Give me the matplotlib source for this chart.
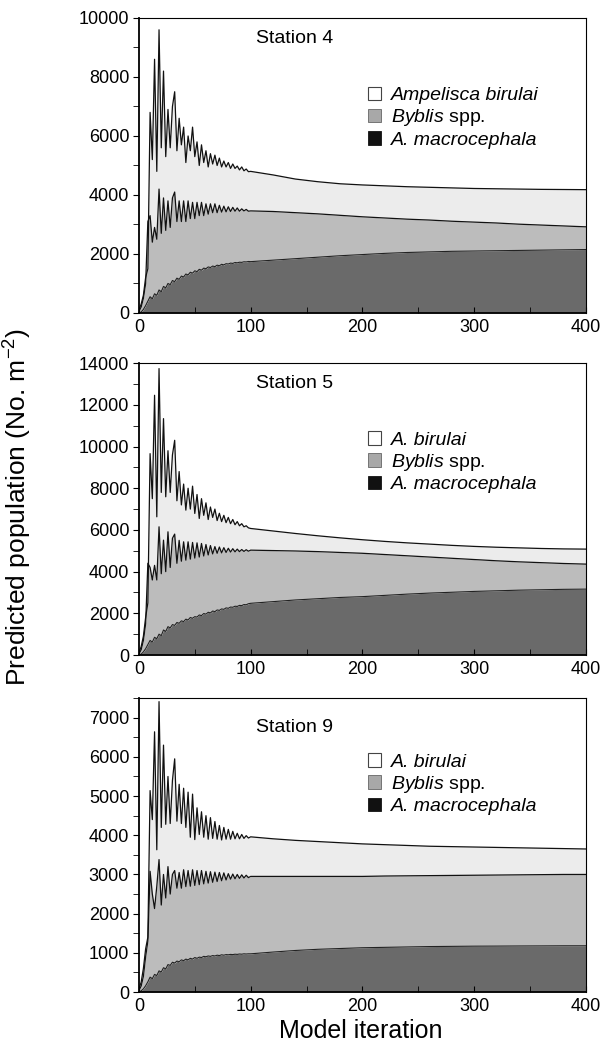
import matplotlib.pyplot as plt
from matplotlib.patches import Patch

plt.rcParams['font.family'] = ['Liberation Sans', 'DejaVu Sans']
plt.rcParams['mathtext.fontset'] = 'custom'
plt.rcParams['mathtext.rm'] = 'Liberation Sans'
plt.rcParams['mathtext.it'] = 'Liberation Sans:italic'

iters = list(range(0, 101, 2)) + list(range(120, 401, 20))

# Station 4 : cumulative boundaries (macro, macro+Byblis, total)
st4_low = [0, 30, 120, 250, 400, 550, 480, 650, 600, 780, 720, 900, 850, 1000, 960, 1100, 1060,
           1180, 1140, 1250, 1220, 1320, 1290, 1380, 1350, 1430, 1400, 1480, 1450, 1520, 1500,
           1560, 1540, 1590, 1570, 1620, 1600, 1650, 1630, 1670, 1660, 1690, 1680, 1710, 1700,
           1720, 1715, 1735, 1730, 1745, 1740,
           1790, 1840, 1890, 1940, 1980, 2020, 2050, 2070, 2090, 2100, 2110, 2120, 2130, 2140, 2150]
st4_mid = [50, 200, 500, 1000, 3100, 3300, 2400, 2900, 2500, 4200, 2700, 3900, 2800, 3800, 2900,
           3900, 4100, 3100, 3800, 3100, 3800, 3100, 3800, 3200, 3750, 3200, 3750, 3300, 3750,
           3300, 3700, 3350, 3700, 3400, 3700, 3400, 3650, 3420, 3620, 3430, 3600, 3440, 3580,
           3450, 3560, 3450, 3530, 3460, 3510, 3450, 3460,
           3440, 3400, 3360, 3310, 3260, 3220, 3180, 3150, 3110, 3080, 3050, 3010, 2980, 2950, 2920]
st4_top = [100, 300, 600, 1200, 1500, 6800, 5200, 8600, 4800, 9600, 5600, 8200, 5300, 6900, 5600,
           7000, 7500, 5500, 6600, 5700, 6300, 5100, 6000, 5500, 6300, 5300, 5800, 5000, 5700,
           5100, 5500, 4950, 5400, 5050, 5350, 5000, 5250, 4950, 5150, 4950, 5100, 4900, 5050,
           4900, 4980, 4850, 4950, 4820, 4880, 4790, 4800,
           4680, 4540, 4450, 4380, 4340, 4310, 4280, 4260, 4240, 4220, 4210, 4200, 4190, 4185, 4180]

# Station 5
st5_low = [0, 40, 150, 300, 500, 700, 620, 850, 780, 1000, 930, 1200, 1130, 1360, 1300, 1460, 1420,
           1560, 1520, 1640, 1600, 1720, 1680, 1800, 1760, 1840, 1820, 1920, 1890, 1990, 1960,
           2050, 2020, 2110, 2080, 2160, 2140, 2210, 2190, 2260, 2240, 2300, 2290, 2340, 2330,
           2380, 2370, 2420, 2410, 2460, 2480,
           2560, 2640, 2700, 2760, 2800, 2860, 2920, 2970, 3010, 3050, 3080, 3110, 3130, 3150, 3160]
st5_mid = [50, 250, 700, 1500, 4400, 4200, 3600, 4300, 3600, 6150, 3900, 5510, 4000, 5910, 4200,
           5600, 5800, 4400, 5500, 4500, 5430, 4550, 5430, 4600, 5400, 4650, 5380, 4700, 5350,
           4750, 5300, 4800, 5250, 4850, 5200, 4880, 5180, 4900, 5150, 4920, 5120, 4940, 5100,
           4950, 5080, 4960, 5060, 4970, 5050, 4980, 5030,
           5010, 4990, 4960, 4920, 4880, 4820, 4760, 4700, 4640, 4580, 4520, 4470, 4430, 4390, 4360]
st5_top = [100, 400, 900, 1800, 2500, 9660, 7500, 12460, 6630, 13740, 7800, 11340, 7590, 9800,
           7800, 9600, 10300, 7400, 8800, 7200, 8200, 6950, 8000, 7000, 8100, 6790, 7700, 6550,
           7500, 6700, 7300, 6500, 7100, 6600, 7000, 6450, 6800, 6400, 6700, 6350, 6600, 6300,
           6500, 6250, 6400, 6200, 6300, 6150, 6200, 6100, 6070,
           5950, 5830, 5720, 5620, 5530, 5450, 5380, 5320, 5260, 5210, 5170, 5140, 5110, 5090, 5080]

# Station 9
st9_low = [0, 30, 80, 160, 260, 380, 340, 450, 420, 540, 510, 620, 590, 700, 680, 760, 740, 790,
           770, 820, 800, 840, 820, 860, 840, 880, 860, 890, 880, 910, 900, 920, 910, 930, 920,
           940, 930, 950, 940, 955, 950, 960, 955, 965, 960, 970, 965, 975, 970, 975, 975,
           1020, 1060, 1090, 1110, 1130, 1140, 1150, 1160, 1165, 1170, 1172, 1175, 1177, 1180, 1180]
st9_mid = [40, 150, 400, 900, 1300, 3080, 2500, 2130, 2700, 3380, 2220, 3000, 2400, 3200, 2500,
           3000, 3100, 2650, 3050, 2650, 3120, 2690, 3100, 2700, 3120, 2720, 3100, 2740, 3100,
           2760, 3080, 2780, 3070, 2800, 3060, 2820, 3050, 2840, 3040, 2860, 3020, 2880, 3010,
           2890, 3000, 2900, 2990, 2910, 2980, 2920, 2950,
           2950, 2950, 2950, 2950, 2950, 2960, 2965, 2970, 2975, 2980, 2985, 2990, 2995, 3000, 3000]
st9_top = [80, 250, 600, 1100, 1400, 5140, 4400, 6640, 3630, 7410, 4200, 6300, 4280, 5500, 4300,
           5400, 5950, 4360, 5300, 4300, 5200, 4200, 5100, 3950, 5050, 3890, 4700, 4020, 4600,
           3950, 4500, 3900, 4450, 3920, 4350, 3900, 4250, 3880, 4200, 3900, 4150, 3900, 4100,
           3910, 4050, 3910, 4020, 3920, 3990, 3930, 3960,
           3910, 3870, 3840, 3810, 3780, 3760, 3740, 3720, 3710, 3700, 3690, 3680, 3670, 3660, 3650]

stations = ['Station 4', 'Station 5', 'Station 9']
lows = [st4_low, st5_low, st9_low]
mids = [st4_mid, st5_mid, st9_mid]
tops = [st4_top, st5_top, st9_top]
ymaxes = [10000, 14000, 7500]
major_steps = [2000, 2000, 1000]
minor_steps = [1000, 1000, 500]
legend_labels = [
    ['Ampelisca birulai', r'$\it{Byblis}$ spp.', 'A. macrocephala'],
    ['A. birulai', r'$\it{Byblis}$ spp.', 'A. macrocephala'],
    ['A. birulai', r'$\it{Byblis}$ spp.', 'A. macrocephala'],
]
legend_y = [0.80, 0.80, 0.845]

c_bir, c_byb, c_mac = '#ececec', '#bcbcbc', '#6a6a6a'

fig = plt.figure(figsize=(6.04, 10.46), dpi=100)
bottoms = [0.7008, 0.3738, 0.0516]
heights = [0.282, 0.279, 0.281]

for i in range(3):
    ax = fig.add_axes([0.230, bottoms[i], 0.740, heights[i]])
    ax.fill_between(iters, 0, lows[i], color=c_mac, lw=0)
    ax.fill_between(iters, lows[i], mids[i], color=c_byb, lw=0)
    ax.fill_between(iters, mids[i], tops[i], color=c_bir, lw=0)
    ax.plot(iters, lows[i], color='#222222', lw=0.8)
    ax.plot(iters, mids[i], color='#111111', lw=0.9)
    ax.plot(iters, tops[i], color='#111111', lw=0.9)

    ax.set_xlim(0, 400)
    ax.set_ylim(0, ymaxes[i])
    ax.set_xticks(range(0, 401, 100))
    ax.set_xticks(range(50, 400, 100), minor=True)
    ax.set_yticks(range(0, ymaxes[i] + 1, major_steps[i]))
    ax.set_yticks(range(0, ymaxes[i] + 1, minor_steps[i]), minor=True)
    ax.tick_params(axis='x', which='both', direction='in', length=4, labelsize=13, pad=4)
    ax.tick_params(axis='y', which='both', direction='out', length=4, labelsize=13, pad=3)
    for s in ['left', 'bottom']:
        ax.spines[s].set_linewidth(1.3)
    for s in ['top', 'right']:
        ax.spines[s].set_linewidth(0.8)

    ax.text(0.262, 0.93 if i < 2 else 0.90, stations[i], transform=ax.transAxes,
            fontsize=14, va='center', ha='left')

    handles = [Patch(facecolor='white', edgecolor='#444444', lw=0.8),
               Patch(facecolor='#a8a8a8', edgecolor='#666666', lw=0.6),
               Patch(facecolor='#111111', edgecolor='#111111', lw=0.6)]
    leg = ax.legend(handles, legend_labels[i], loc='upper left',
                    bbox_to_anchor=(0.49, legend_y[i]), frameon=False, fontsize=14,
                    handlelength=0.7, handleheight=0.7, handletextpad=0.5,
                    labelspacing=0.15, borderpad=0)
    leg.get_texts()[0].set_fontstyle('italic')
    leg.get_texts()[2].set_fontstyle('italic')

fig.text(0.03, 0.515, r'Predicted population (No. m$^{-2}$)', rotation=90,
         fontsize=19, ha='center', va='center')
fig.text(0.598, 0.014, 'Model iteration', fontsize=18, ha='center', va='center')

fig.savefig('out.png', dpi=100)
